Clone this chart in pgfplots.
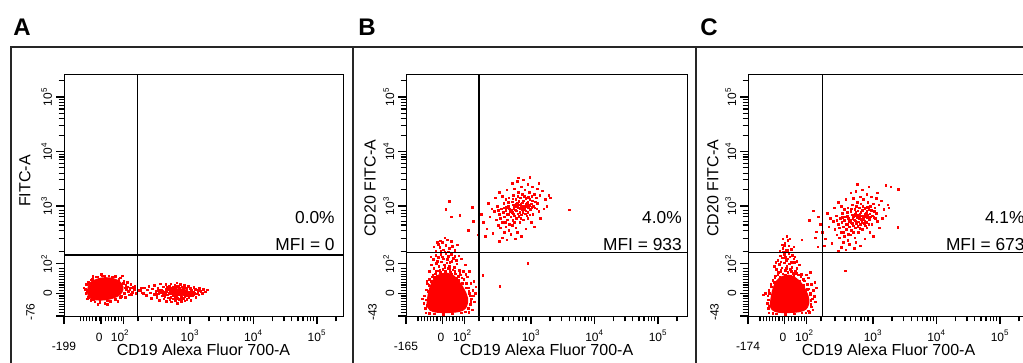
\documentclass[border=0pt]{standalone}
\usepackage{fontspec}
\setmainfont{Liberation Sans}
\usepackage{pgfplots}
\pgfplotsset{compat=1.18}

\newcommand{\tkf}{\fontsize{9}{10}\selectfont}
\newcommand{\tk}[1]{10\textsuperscript{#1}}
% x tick label: #1 position, #2 text, #3 drop below axis
\newcommand{\xtl}[3]{\node[anchor=base, inner sep=0pt, font=\tkf] at ([yshift=-#3]axis cs:#1,0.982) {#2};}
% y tick label: #1 xmin, #2 position, #3 text, #4 distance left of axis
\newcommand{\ytl}[4]{\node[anchor=base, rotate=90, inner sep=0pt, font=\tkf] at ([xshift=-#4]axis cs:#1,#2) {#3};}

\pgfplotsset{
  flow/.style={
    scale only axis,
    clip mode=individual,
    height=180.75pt,
    ymin=0.982, ymax=5.404,
    axis line style={line width=0.75pt},
    tick align=outside,
    major tick length=6pt, minor tick length=4pt,
    every tick/.style={black, line width=0.9pt},
    xtick pos=left, ytick pos=left,
    ytick={0.982,1.40,1.94,3,4,5},
    xticklabels={}, yticklabels={},
    minor ytick={1.05,1.10,1.15,1.20,1.25,1.30,1.35,1.45,1.50,1.55,1.60,1.65,1.70,1.75,1.80,1.85,
      2.17,2.40,2.55,2.65,2.72,2.81,2.87,2.92,3.30,3.48,3.60,3.70,3.78,3.85,3.90,3.95,
      4.30,4.48,4.60,4.70,4.78,4.85,4.90,4.95,5.30},
    label style={font=\fontsize{12}{14}\selectfont},
    xlabel={CD19 Alexa Fluor 700-A},
    xlabel style={at={(axis description cs:0.5,-0.141)}, anchor=center},
    dots/.style={only marks, mark=square*, mark size=0.6pt, color=red, mark options={draw=none, fill=red}},
    core/.style={fill=red, draw=red, line width=0.8pt, smooth, tension=0.6, mark=none},
    quad/.style={black, line width=0.9pt, mark=none},
  }
}

\begin{document}
\begin{tikzpicture}
\path[use as bounding box] (0pt,0pt) rectangle (767.25pt,-272.25pt);
\clip (0pt,0pt) rectangle (767.25pt,-272.25pt);

% ---------------- Panel A ----------------
\begin{axis}[flow, at={(48pt,-237pt)}, anchor=south west, width=209.25pt,
  xmin=1.016, xmax=5.41,
  xtick={1.016,1.60,1.95,3,4,5},
  minor xtick={1.27,1.32,1.37,1.42,1.47,1.52,1.57,1.67,1.72,1.77,1.82,1.87,1.92,
      2.18,2.40,2.56,2.65,2.73,2.81,2.87,2.92,3.30,3.48,3.60,3.70,3.78,3.85,3.90,3.95,
      4.30,4.48,4.60,4.70,4.78,4.85,4.90,4.95,5.30},
  ylabel={FITC-A},
  ylabel style={at={(axis description cs:-0.14,0.56)}, anchor=center},
]
\addplot[core] coordinates {(1.394,1.495) (1.425,1.587) (1.504,1.642) (1.614,1.679) (1.740,1.679) (1.850,1.642) (1.913,1.587) (1.945,1.514) (1.929,1.422) (1.866,1.349) (1.740,1.294) (1.583,1.275) (1.457,1.294) (1.394,1.367) (1.394,1.495)};
\addplot[dots] coordinates {(1.35,1.47) (1.36,1.40) (1.37,1.56) (1.40,1.33) (1.44,1.27) (1.50,1.24) (1.58,1.23) (1.66,1.22) (1.74,1.25) (1.82,1.28) (1.90,1.33) (1.97,1.40) (2.00,1.47) (1.99,1.55) (1.96,1.62) (1.90,1.68) (1.82,1.71) (1.72,1.72) (1.62,1.72) (1.52,1.70) (1.44,1.65) (1.40,1.61) (2.03,1.44) (2.06,1.50) (2.09,1.42) (2.04,1.37) (2.12,1.47) (2.15,1.40) (2.01,1.60) (1.98,1.33) (1.55,1.20) (1.70,1.20) (1.33,1.50) (1.38,1.30) (1.47,1.71) (1.86,1.25) (2.07,1.56) (2.13,1.53) (1.93,1.72) (1.60,1.75) (2.20,1.45) (2.23,1.50) (2.25,1.41)
(1.38,1.45) (1.41,1.58) (1.46,1.66) (1.55,1.70) (1.66,1.71) (1.78,1.70) (1.88,1.66) (1.95,1.58) (1.98,1.50) (1.96,1.40) (1.92,1.34) (1.82,1.29) (1.70,1.26) (1.58,1.26) (1.48,1.28) (1.41,1.34) (2.02,1.52) (2.05,1.46) (2.08,1.38) (2.10,1.51)};
\addplot[core] coordinates {(2.70,1.42) (2.75,1.47) (2.84,1.48) (2.93,1.46) (2.97,1.41) (2.92,1.37) (2.83,1.36) (2.74,1.37) (2.70,1.42)};
\addplot[dots] coordinates {(2.22,1.45) (2.26,1.40) (2.28,1.50) (2.31,1.36) (2.33,1.46) (2.35,1.53) (2.37,1.41) (2.39,1.31) (2.41,1.48) (2.43,1.38) (2.44,1.55) (2.46,1.44) (2.48,1.33) (2.49,1.50) (2.51,1.40) (2.52,1.27) (2.53,1.57) (2.55,1.46) (2.56,1.35) (2.58,1.52) (2.59,1.30) (2.60,1.43) (2.62,1.56) (2.63,1.25) (2.64,1.49) (2.66,1.32)
(2.67,1.53) (2.68,1.28) (2.70,1.57) (2.71,1.24) (2.73,1.51) (2.74,1.30) (2.76,1.55) (2.77,1.27) (2.79,1.59) (2.80,1.22) (2.82,1.53) (2.83,1.29) (2.85,1.56) (2.86,1.25) (2.88,1.52) (2.89,1.31) (2.91,1.55) (2.92,1.26) (2.94,1.50) (2.95,1.29) (2.97,1.53) (2.98,1.33) (3.00,1.49) (3.01,1.27) (3.03,1.45) (3.04,1.36) (3.06,1.51) (3.07,1.40) (3.09,1.33) (3.10,1.46) (3.12,1.42) (3.14,1.37) (3.15,1.49) (3.17,1.44) (3.19,1.40) (3.21,1.47) (3.24,1.43) (3.27,1.46)
(2.58,1.40) (2.62,1.47) (2.65,1.37) (2.69,1.44) (2.72,1.40) (2.75,1.46) (2.78,1.36) (2.81,1.43) (2.84,1.39) (2.87,1.46) (2.90,1.38) (2.93,1.44) (2.96,1.40) (2.99,1.42) (3.02,1.39) (2.60,1.34) (2.64,1.52) (3.05,1.43) (3.08,1.47) (2.70,1.33) (2.94,1.35) (3.00,1.35)
(2.57,1.44) (2.61,1.38) (2.63,1.43) (2.66,1.46) (2.67,1.40) (2.71,1.49) (2.74,1.35) (2.77,1.50) (2.80,1.31) (2.83,1.49) (2.86,1.33) (2.89,1.48) (2.92,1.34) (2.95,1.47) (2.98,1.37) (3.01,1.46) (3.03,1.41) (2.68,1.51) (2.79,1.53) (2.90,1.52) (2.76,1.32) (2.87,1.29) (3.06,1.38) (2.54,1.42) (2.50,1.45) (2.47,1.38) (3.11,1.39) (3.13,1.45)};
\addplot[quad] coordinates {(2.17,0.982) (2.17,5.404)};
\addplot[quad] coordinates {(1.016,2.10) (5.41,2.10)};
\node[anchor=east, font=\fontsize{13}{15}\selectfont, inner sep=0pt] at (rel axis cs:0.971,0.407) {0.0\%};
\node[anchor=east, font=\fontsize{13}{15}\selectfont, inner sep=0pt] at (rel axis cs:0.971,0.295) {MFI = 0};
\xtl{1.016}{-199}{25.5pt}
\xtl{1.57}{0}{18.75pt}
\xtl{1.90}{\tk{2}}{18.75pt}
\xtl{3}{\tk{3}}{18.75pt}
\xtl{4}{\tk{4}}{18.75pt}
\xtl{5}{\tk{5}}{18.75pt}
\ytl{1.016}{1.055}{-76}{22pt}
\ytl{1.016}{1.40}{0}{9pt}
\ytl{1.016}{1.94}{\tk{2}}{9pt}
\ytl{1.016}{3}{\tk{3}}{9pt}
\ytl{1.016}{4}{\tk{4}}{9pt}
\ytl{1.016}{5}{\tk{5}}{9pt}
\end{axis}

% ---------------- Panel B ----------------
\begin{axis}[flow, at={(304.5pt,-237pt)}, anchor=south west, width=210.75pt,
  xmin=1.031, xmax=5.457,
  xtick={1.031,1.60,1.95,3,4,5},
  minor xtick={1.22,1.27,1.32,1.37,1.42,1.47,1.52,1.57,1.67,1.72,1.77,1.82,1.87,1.92,
      2.18,2.40,2.56,2.65,2.73,2.81,2.87,2.92,3.30,3.48,3.60,3.70,3.78,3.85,3.90,3.95,
      4.30,4.48,4.60,4.70,4.78,4.85,4.90,4.95,5.30},
  ylabel={CD20 FITC-A},
  ylabel style={at={(axis description cs:-0.128,0.53)}, anchor=center},
]
\addplot[core] coordinates {(1.36,1.18) (1.38,1.37) (1.41,1.51) (1.46,1.64) (1.54,1.73) (1.66,1.77) (1.78,1.72) (1.87,1.61) (1.95,1.46) (2.00,1.31) (1.99,1.18) (1.93,1.09) (1.77,1.05) (1.53,1.05) (1.41,1.09) (1.36,1.18)};
\addplot[dots] coordinates {(1.44,1.70) (1.49,1.76) (1.53,1.81) (1.57,1.78) (1.61,1.84) (1.65,1.80) (1.69,1.86) (1.73,1.79) (1.77,1.83) (1.81,1.76) (1.85,1.71) (1.89,1.74) (1.47,1.86) (1.55,1.89) (1.63,1.92) (1.71,1.90) (1.79,1.88) (1.87,1.82) (1.51,1.95) (1.59,1.98) (1.67,1.96) (1.75,1.99) (1.83,1.94) (1.43,1.92) (1.91,1.68) (1.93,1.80) (1.61,1.75) (1.69,1.74) (1.52,1.72) (1.40,1.80)
(1.46,2.02) (1.54,2.06) (1.62,2.03) (1.70,2.08) (1.78,2.04) (1.86,2.09) (1.58,2.12) (1.66,2.13) (1.74,2.11) (1.50,2.10) (1.82,2.00) (1.90,2.03) (1.42,2.07) (1.96,1.92)
(1.50,2.18) (1.56,2.24) (1.62,2.20) (1.66,2.28) (1.71,2.22) (1.76,2.26) (1.60,2.33) (1.68,2.38) (1.54,2.30) (1.80,2.19) (1.74,2.35) (1.64,2.42) (1.47,2.25) (1.84,2.29) (1.58,2.17) (1.70,2.16)
(1.31,1.22) (1.33,1.12) (1.32,1.35) (1.35,1.46) (1.37,1.57) (1.40,1.66) (1.29,1.30) (1.34,1.04) (1.36,1.62)
(2.04,1.20) (2.06,1.30) (2.03,1.40) (2.01,1.50) (1.98,1.58) (1.94,1.66) (2.09,1.35) (2.11,1.24) (2.07,1.10) (2.02,1.05) (2.08,1.45) (2.05,1.58) (2.00,1.70) (2.03,1.80) (2.10,1.62) (2.13,1.52) (2.12,1.40) (1.97,1.75)
(1.48,1.02) (1.62,1.01) (1.76,1.02) (1.90,1.04) (1.40,1.03) (1.48,1.69) (1.58,1.76) (1.74,1.75) (1.83,1.67)
(1.45,1.74) (1.56,1.82) (1.64,1.88) (1.72,1.84) (1.80,1.80) (1.88,1.78) (1.50,1.80) (1.60,1.71) (1.76,1.70) (1.86,1.64) (1.92,1.58) (1.97,1.50) (2.02,1.44) (2.04,1.35) (2.05,1.25) (2.01,1.12) (1.96,1.06) (1.38,1.44) (1.34,1.28) (1.36,1.18) (1.39,1.55) (1.43,1.62) (1.52,1.99) (1.68,2.02) (1.80,2.08) (1.60,2.07) (1.72,1.97) (1.64,2.16) (1.57,2.36) (1.52,2.34)};
\addplot[dots] coordinates {(2.62,2.85) (2.66,2.95) (2.70,2.88) (2.72,3.02) (2.75,2.93) (2.78,3.06) (2.80,2.97) (2.82,2.89) (2.84,3.03) (2.86,2.94) (2.88,3.10) (2.90,3.00) (2.92,2.91) (2.94,3.05) (2.96,2.97) (2.98,3.12) (2.68,2.80) (2.74,2.82) (2.79,2.86) (2.85,2.84) (2.91,2.86) (2.64,3.00) (2.70,3.08) (2.76,3.12) (2.83,3.15) (2.89,3.18) (2.95,2.88) (3.00,3.04) (2.60,2.92) (2.58,2.80) (2.87,3.00) (2.81,3.09) (2.73,2.96) (2.67,2.90) (2.93,2.99) (2.99,2.94) (3.02,3.10) (2.77,2.78) (2.63,2.75) (2.71,2.74)
(2.45,2.75) (2.50,2.85) (2.48,2.65) (2.53,2.95) (2.55,2.70) (2.57,3.05) (2.52,2.60) (2.60,2.62) (2.65,2.55) (2.70,2.65) (2.76,2.60) (2.82,2.70) (2.88,2.75) (2.95,2.78) (3.03,2.85) (3.06,2.97) (3.08,3.15) (3.05,3.22) (2.97,3.25) (2.90,3.30) (2.80,3.25) (2.72,3.20) (2.65,3.15) (2.60,3.12) (2.55,3.18) (3.10,3.05) (3.12,2.90) (3.00,2.70) (2.42,2.90) (2.47,3.00) (2.58,2.52) (2.68,2.48) (2.78,2.52) (3.14,3.20) (2.85,3.35) (2.74,3.32)
(2.25,2.70) (2.30,2.58) (2.35,2.80) (2.38,2.95) (2.40,2.50) (2.33,3.05) (2.44,3.15) (2.50,3.25) (2.62,3.30) (2.70,3.42) (2.78,3.45) (2.88,3.48) (2.95,3.40) (3.02,3.35) (3.10,3.32) (3.18,3.28) (3.22,3.12) (3.25,3.00) (3.28,3.20) (3.20,2.95) (3.15,2.78) (3.05,2.62) (2.92,2.58) (2.85,2.45) (2.75,2.40) (2.62,2.38) (2.55,2.42) (2.50,2.35) (3.30,3.15) (3.12,3.42) (2.98,3.53) (2.80,3.52) (2.22,2.85) (2.28,2.45)
(2.74,2.99) (2.77,2.91) (2.80,3.02) (2.83,2.95) (2.86,3.06) (2.89,2.93) (2.92,3.03) (2.95,3.08) (2.78,3.00) (2.84,2.99) (2.90,2.95) (2.69,2.93) (2.72,2.86) (2.81,2.81) (2.87,2.88) (2.93,2.82) (2.97,3.01) (3.01,2.98) (2.76,3.04) (2.65,2.85) (2.61,2.98) (2.56,2.88) (2.52,2.78) (2.96,3.16) (3.04,3.00) (3.07,3.08) (2.71,3.13) (2.79,3.18) (2.86,3.22) (2.64,3.07) (2.59,2.70) (2.66,2.66) (2.74,2.70) (2.84,2.77) (2.98,2.84) (3.09,2.95) (2.48,2.92) (2.57,2.97) (2.92,3.14) (3.01,3.18)
(3.60,2.93) (2.95,1.95) (2.51,1.53) (2.24,1.73) (1.71,3.09) (1.66,2.94) (1.74,2.80) (1.88,2.83) (2.07,2.98) (2.09,2.72) (2.01,2.56) (2.17,2.47)};
\addplot[quad] coordinates {(2.18,0.982) (2.18,5.404)};
\addplot[quad] coordinates {(1.031,2.14) (5.457,2.14)};
\node[anchor=east, font=\fontsize{13}{15}\selectfont, inner sep=0pt] at (rel axis cs:0.982,0.407) {4.0\%};
\node[anchor=east, font=\fontsize{13}{15}\selectfont, inner sep=0pt] at (rel axis cs:0.982,0.295) {MFI = 933};
\xtl{1.031}{-165}{25.5pt}
\xtl{1.58}{0}{18.75pt}
\xtl{1.92}{\tk{2}}{18.75pt}
\xtl{3}{\tk{3}}{18.75pt}
\xtl{4}{\tk{4}}{18.75pt}
\xtl{5}{\tk{5}}{18.75pt}
\ytl{1.031}{1.055}{-43}{22pt}
\ytl{1.031}{1.40}{0}{9pt}
\ytl{1.031}{1.94}{\tk{2}}{9pt}
\ytl{1.031}{3}{\tk{3}}{9pt}
\ytl{1.031}{4}{\tk{4}}{9pt}
\ytl{1.031}{5}{\tk{5}}{9pt}
\end{axis}

% ---------------- Panel C ----------------
\begin{axis}[flow, at={(561pt,-237pt)}, anchor=south west, width=210.75pt,
  xmin=1.031, xmax=5.457,
  xtick={1.031,1.60,1.95,3,4,5},
  minor xtick={1.22,1.27,1.32,1.37,1.42,1.47,1.52,1.57,1.67,1.72,1.77,1.82,1.87,1.92,
      2.18,2.40,2.56,2.65,2.73,2.81,2.87,2.92,3.30,3.48,3.60,3.70,3.78,3.85,3.90,3.95,
      4.30,4.48,4.60,4.70,4.78,4.85,4.90,4.95,5.30},
  ylabel={CD20 FITC-A},
  ylabel style={at={(axis description cs:-0.125,0.53)}, anchor=center},
]
\addplot[core] coordinates {(1.38,1.18) (1.40,1.35) (1.43,1.50) (1.48,1.62) (1.56,1.70) (1.67,1.73) (1.78,1.68) (1.88,1.57) (1.95,1.43) (1.99,1.28) (1.97,1.15) (1.90,1.08) (1.75,1.05) (1.52,1.05) (1.41,1.10) (1.38,1.18)};
\addplot[dots] coordinates {(1.45,1.68) (1.50,1.74) (1.54,1.79) (1.58,1.76) (1.62,1.82) (1.66,1.78) (1.70,1.84) (1.74,1.77) (1.78,1.81) (1.82,1.74) (1.86,1.70) (1.48,1.84) (1.56,1.87) (1.64,1.90) (1.72,1.88) (1.80,1.86) (1.52,1.93) (1.60,1.96) (1.68,1.94) (1.76,1.97) (1.84,1.92) (1.44,1.90) (1.90,1.66) (1.62,1.73) (1.70,1.72) (1.53,1.70)
(1.50,2.00) (1.57,2.05) (1.63,2.01) (1.69,2.07) (1.75,2.03) (1.60,2.11) (1.67,2.13) (1.73,2.10) (1.54,2.09) (1.80,1.99) (1.47,1.97)
(1.53,2.17) (1.58,2.23) (1.63,2.19) (1.67,2.27) (1.71,2.21) (1.61,2.32) (1.66,2.37) (1.56,2.29) (1.75,2.25) (1.69,2.40) (1.59,2.16) (1.64,2.45)
(1.33,1.22) (1.35,1.12) (1.34,1.35) (1.36,1.45) (1.39,1.56) (1.42,1.64) (1.30,1.40) (1.27,1.37) (1.36,1.04)
(2.02,1.20) (2.04,1.30) (2.01,1.40) (1.99,1.48) (1.96,1.56) (1.92,1.63) (2.07,1.34) (2.09,1.24) (2.05,1.10) (2.00,1.05) (2.06,1.45) (2.03,1.56) (1.98,1.68) (2.01,1.78) (2.08,1.60) (2.11,1.50) (1.95,1.74)
(1.48,1.02) (1.62,1.01) (1.76,1.02) (1.88,1.04) (1.42,1.03)
(1.46,1.72) (1.55,1.83) (1.63,1.86) (1.71,1.80) (1.79,1.77) (1.87,1.75) (1.51,1.78) (1.60,1.69) (1.75,1.71) (1.84,1.62) (1.91,1.55) (1.96,1.47) (2.01,1.38) (2.02,1.27) (2.03,1.15) (1.98,1.08) (1.94,1.04) (1.37,1.40) (1.35,1.28) (1.36,1.17) (1.40,1.52) (1.44,1.60) (1.55,1.98) (1.66,2.03) (1.77,2.07) (1.62,2.06) (1.71,1.97) (1.65,2.19) (1.60,2.28) (1.58,2.40)};
\addplot[dots] coordinates {(2.57,2.67) (2.61,2.77) (2.65,2.70) (2.67,2.84) (2.70,2.75) (2.73,2.88) (2.75,2.79) (2.77,2.71) (2.79,2.85) (2.81,2.76) (2.83,2.92) (2.85,2.82) (2.87,2.73) (2.89,2.87) (2.91,2.79) (2.93,2.94) (2.63,2.62) (2.69,2.64) (2.74,2.68) (2.80,2.66) (2.86,2.68) (2.59,2.82) (2.65,2.90) (2.71,2.94) (2.78,2.97) (2.84,3.00) (2.90,2.70) (2.95,2.86) (2.55,2.74) (2.53,2.62) (2.82,2.82) (2.76,2.91) (2.68,2.78) (2.62,2.72) (2.88,2.81) (2.94,2.76) (2.97,2.92) (2.72,2.60) (2.58,2.57) (2.66,2.56)
(2.40,2.57) (2.45,2.67) (2.43,2.47) (2.48,2.77) (2.50,2.52) (2.52,2.87) (2.47,2.42) (2.55,2.44) (2.60,2.37) (2.65,2.47) (2.71,2.42) (2.77,2.52) (2.83,2.57) (2.90,2.60) (2.98,2.67) (3.01,2.79) (3.03,2.97) (3.00,3.04) (2.92,3.07) (2.85,3.12) (2.75,3.07) (2.67,3.02) (2.60,2.97) (2.55,2.94) (2.50,3.00) (3.05,2.87) (3.07,2.72) (2.95,2.52) (2.37,2.72) (2.42,2.82) (2.53,2.34) (2.63,2.30) (2.73,2.34) (3.09,3.02) (2.80,3.17) (2.69,3.14)
(2.20,2.52) (2.25,2.40) (2.30,2.62) (2.33,2.77) (2.35,2.32) (2.28,2.87) (2.39,2.97) (2.45,3.07) (2.57,3.12) (2.65,3.24) (2.73,3.27) (2.83,3.30) (2.90,3.22) (2.97,3.17) (3.05,3.14) (3.13,3.10) (3.17,2.94) (3.20,2.82) (3.23,3.02) (3.15,2.77) (3.10,2.60) (3.00,2.44) (2.87,2.40) (2.80,2.27) (2.70,2.22) (2.57,2.20) (2.50,2.24) (2.45,2.17) (3.25,2.97) (3.07,3.24) (2.93,3.35) (2.75,3.40) (2.17,2.67) (2.23,2.27) (2.11,2.53) (2.09,2.42) (2.14,2.80)
(2.69,2.81) (2.72,2.73) (2.75,2.84) (2.78,2.77) (2.81,2.88) (2.84,2.75) (2.87,2.85) (2.90,2.90) (2.73,2.82) (2.79,2.81) (2.85,2.77) (2.64,2.75) (2.67,2.68) (2.76,2.63) (2.82,2.70) (2.88,2.64) (2.92,2.83) (2.96,2.80) (2.71,2.86) (2.60,2.67) (2.56,2.80) (2.51,2.70) (2.47,2.60) (2.91,2.98) (2.99,2.82) (3.02,2.90) (2.66,2.95) (2.74,3.00) (2.81,3.04) (2.59,2.89) (2.54,2.52) (2.61,2.48) (2.69,2.52) (2.79,2.59) (2.93,2.66) (3.04,2.77) (2.43,2.74) (2.52,2.79) (2.87,2.96) (2.96,3.00)
(2.56,1.81) (3.39,2.61) (3.28,3.35) (3.20,3.38) (2.06,2.91) (2.00,2.74) (2.13,2.25) (1.88,2.38) (3.40,3.31)};
\addplot[quad] coordinates {(2.20,0.982) (2.20,5.404)};
\addplot[quad] coordinates {(1.031,2.14) (5.457,2.14)};
\node[anchor=east, font=\fontsize{13}{15}\selectfont, inner sep=0pt] at (rel axis cs:0.985,0.407) {4.1\%};
\node[anchor=east, font=\fontsize{13}{15}\selectfont, inner sep=0pt] at (rel axis cs:0.985,0.295) {MFI = 673};
\xtl{1.031}{-174}{25.5pt}
\xtl{1.58}{0}{18.75pt}
\xtl{1.92}{\tk{2}}{18.75pt}
\xtl{3}{\tk{3}}{18.75pt}
\xtl{4}{\tk{4}}{18.75pt}
\xtl{5}{\tk{5}}{18.75pt}
\ytl{1.031}{1.055}{-43}{22pt}
\ytl{1.031}{1.40}{0}{9pt}
\ytl{1.031}{1.94}{\tk{2}}{9pt}
\ytl{1.031}{3}{\tk{3}}{9pt}
\ytl{1.031}{4}{\tk{4}}{9pt}
\ytl{1.031}{5}{\tk{5}}{9pt}
\end{axis}

% panel frames and letters
\draw[black!85, line width=0.9pt] (8.25pt,-290pt) -- (8.25pt,-35.25pt) -- (790pt,-35.25pt);
\draw[black!85, line width=0.9pt] (264.75pt,-290pt) -- (264.75pt,-35.25pt);
\draw[black!85, line width=0.9pt] (522pt,-290pt) -- (522pt,-35.25pt);
\node[anchor=base west, inner sep=0pt, font=\fontsize{18}{20}\selectfont\bfseries] at (9.75pt,-27pt) {A};
\node[anchor=base west, inner sep=0pt, font=\fontsize{18}{20}\selectfont\bfseries] at (268.5pt,-27pt) {B};
\node[anchor=base west, inner sep=0pt, font=\fontsize{18}{20}\selectfont\bfseries] at (525pt,-27pt) {C};
\end{tikzpicture}
\end{document}
